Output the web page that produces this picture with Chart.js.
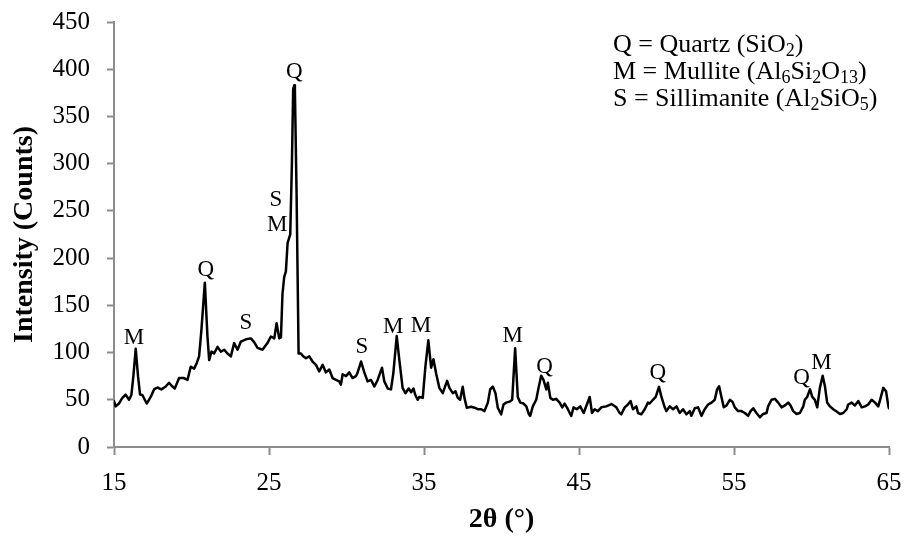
<!DOCTYPE html>
<html>
<head>
<meta charset="utf-8">
<script src="https://cdn.jsdelivr.net/npm/chart.js@4/dist/chart.umd.min.js"></script>
<style>
  html, body { margin: 0; padding: 0; background: #ffffff; }
  #wrap { width: 910px; height: 541px; }
</style>
</head>
<body>
<div id="wrap"><canvas id="xrd" width="910" height="541"></canvas></div>
<script>
// Diffraction angle (2θ, degrees)
const twoTheta = [
  15.00, 15.11, 15.32, 15.54, 15.75, 15.97, 16.12, 16.25, 16.40, 16.55, 16.68, 16.83,
  17.11, 17.37, 17.58, 17.80, 18.06, 18.34, 18.55, 18.77, 18.92, 19.20, 19.52, 19.74,
  19.95, 20.17, 20.34, 20.49, 20.64, 20.86, 21.03, 21.14, 21.29, 21.46, 21.68, 21.89,
  22.11, 22.32, 22.54, 22.75, 22.97, 23.18, 23.51, 23.83, 24.04, 24.26, 24.58, 24.90,
  25.12, 25.34, 25.49, 25.66, 25.77, 25.87, 25.98, 26.09, 26.20, 26.31, 26.37, 26.48,
  26.56, 26.63, 26.67, 26.78, 26.91, 27.06, 27.21, 27.38, 27.60, 27.81, 28.03, 28.24,
  28.46, 28.67, 28.89, 29.10, 29.32, 29.53, 29.64, 29.75, 29.97, 30.18, 30.39, 30.61,
  30.72, 30.94, 31.15, 31.36, 31.58, 31.80, 32.01, 32.29, 32.44, 32.66, 32.87, 33.02,
  33.24, 33.41, 33.62, 33.80, 34.01, 34.17, 34.32, 34.44, 34.59, 34.70, 34.92, 35.09,
  35.28, 35.46, 35.61, 35.78, 35.99, 36.21, 36.49, 36.64, 36.86, 37.03, 37.18, 37.33,
  37.50, 37.61, 37.76, 38.04, 38.26, 38.47, 38.69, 38.90, 39.12, 39.27, 39.44, 39.61,
  39.76, 39.98, 40.13, 40.30, 40.52, 40.69, 40.88, 41.05, 41.21, 41.42, 41.60, 41.77,
  41.85, 42.02, 42.24, 42.39, 42.56, 42.71, 42.89, 42.99, 43.15, 43.32, 43.53, 43.75,
  43.92, 44.07, 44.28, 44.50, 44.65, 44.86, 45.08, 45.30, 45.51, 45.69, 45.84, 46.01,
  46.22, 46.44, 46.76, 47.09, 47.41, 47.62, 47.73, 47.95, 48.16, 48.33, 48.48, 48.70,
  48.81, 49.02, 49.24, 49.45, 49.56, 49.77, 49.95, 50.16, 50.32, 50.53, 50.64, 50.85,
  51.07, 51.29, 51.50, 51.71, 51.93, 52.15, 52.25, 52.47, 52.68, 52.90, 53.11, 53.33,
  53.55, 53.76, 53.91, 54.04, 54.19, 54.34, 54.52, 54.73, 54.90, 55.05, 55.27, 55.48,
  55.70, 55.91, 56.07, 56.24, 56.45, 56.67, 56.88, 57.10, 57.20, 57.42, 57.64, 57.85,
  58.07, 58.28, 58.50, 58.65, 58.82, 59.04, 59.25, 59.47, 59.57, 59.72, 59.90, 60.05,
  60.22, 60.37, 60.54, 60.72, 60.87, 61.01, 61.19, 61.40, 61.62, 61.84, 62.05, 62.27,
  62.37, 62.59, 62.80, 63.02, 63.24, 63.45, 63.66, 63.88, 64.10, 64.31, 64.46, 64.63,
  64.81, 64.96, 65.00
];

// Measured intensity (counts)
const counts = [
  48.6, 43, 46, 52, 55.5, 50, 55, 75, 104, 75, 55.5, 55,
  46, 53, 61, 63, 61, 64, 68, 64, 62, 73, 73, 71,
  85, 83, 89, 96, 124, 174, 117, 92, 101, 99, 106, 101,
  103, 99, 96, 110, 103, 111.5, 114, 115, 111, 105, 103, 110,
  117, 115, 131, 115, 116, 162, 180, 186, 216, 222, 225, 302,
  379, 383, 379, 267, 99, 99, 96, 94, 96, 90.5, 87, 80,
  87, 79, 82, 73, 71, 69.5, 66, 77, 75, 79, 73, 75,
  79, 90.5, 79, 69.5, 71, 64, 71, 84, 69.5, 62, 61, 78,
  117.5, 92, 62.6, 57, 62, 58, 62, 55, 50, 53, 52, 85,
  113, 84, 93, 78, 62.6, 57, 70, 62.6, 57, 59, 52, 50,
  63.7, 52, 41.6, 42.6, 41.6, 40, 40, 38, 47, 61, 64, 57,
  41.6, 34.6, 45, 47, 48, 50, 104.6, 53, 47, 46, 43, 34.6,
  33, 43, 50, 62.6, 75.5, 71, 61, 68, 52, 50, 51, 47,
  42, 46, 40, 33, 42, 40, 43, 36, 45, 53, 36, 40,
  38, 42, 43, 45.5, 42, 36, 34.6, 42, 45, 48.6, 40, 43,
  36, 34.6, 40, 47, 46, 50, 53, 63.7, 53, 42, 38, 43,
  40, 43, 36, 40, 34.6, 38, 33, 41, 42, 33, 40, 45,
  47, 50, 61, 64.3, 53, 42, 44, 50, 48, 42, 38, 38,
  36, 33, 38, 41, 36, 31.5, 35, 36, 43, 50, 51, 47,
  42, 44, 47, 44, 38, 35, 36, 43, 50, 53, 61, 53,
  50, 42, 62.6, 75.5, 64, 47, 43, 40, 37.5, 35, 36, 40,
  45, 47, 44, 48.6, 42, 43, 45, 50, 47, 43, 52, 62.6,
  59, 43, 41
];

// Axis ticks
const xTicks = [15, 25, 35, 45, 55, 65];
const yTicks = [0, 50, 100, 150, 200, 250, 300, 350, 400, 450];

// Phase labels placed over the reflections (2θ, counts)
const peakText = ['M', 'Q', 'S', 'S', 'M', 'Q', 'S', 'M', 'M', 'M', 'Q', 'Q', 'Q', 'M'];
const peakX    = [16.29, 20.92, 23.51, 25.45, 25.53, 26.63, 31.0, 33.02, 34.81, 40.73, 42.78, 50.08, 59.36, 60.65];
const peakY    = [115.6, 187.5, 131.4, 261.5, 235, 397, 106, 127.5, 128, 117.7, 85.2, 78.6, 73.3, 89];

// Phase key: each entry is a run of text; sub marks a subscript
const keyLines = [
  [{ t: 'Q = Quartz (SiO' }, { t: '2', sub: true }, { t: ')' }],
  [{ t: 'M = Mullite (Al' }, { t: '6', sub: true }, { t: 'Si' }, { t: '2', sub: true }, { t: 'O' }, { t: '13', sub: true }, { t: ')' }],
  [{ t: 'S = Sillimanite (Al' }, { t: '2', sub: true }, { t: 'SiO' }, { t: '5', sub: true }, { t: ')' }]
];

const SERIF = '"Liberation Serif", "Times New Roman", serif';
const AXIS_GREY = '#8c8c8c';

const points = twoTheta.map((x, i) => ({ x: x, y: counts[i] }));

const phaseLabels = {
  id: 'phaseLabels',
  afterDatasetsDraw(chart) {
    const { ctx, scales } = chart;
    ctx.save();
    ctx.fillStyle = '#000';
    ctx.font = '23px ' + SERIF;
    ctx.textAlign = 'center';
    ctx.textBaseline = 'middle';
    peakText.forEach((t, i) => {
      ctx.fillText(t, scales.x.getPixelForValue(peakX[i]), scales.y.getPixelForValue(peakY[i]));
    });
    ctx.restore();
  }
};

const phaseKey = {
  id: 'phaseKey',
  afterDraw(chart) {
    const { ctx, chartArea } = chart;
    const left = chartArea.right - 276;
    const firstBaseline = chartArea.top + 30;
    const lineGap = 27;
    ctx.save();
    ctx.fillStyle = '#000';
    ctx.textAlign = 'left';
    ctx.textBaseline = 'alphabetic';
    keyLines.forEach((runs, li) => {
      let x = left;
      const base = firstBaseline + li * lineGap;
      runs.forEach(r => {
        ctx.font = (r.sub ? '18px ' : '26px ') + SERIF;
        const y = r.sub ? base + 4 : base;
        ctx.fillText(r.t, x, y);
        x += ctx.measureText(r.t).width;
      });
    });
    ctx.restore();
  }
};

new Chart(document.getElementById('xrd'), {
  type: 'line',
  data: {
    datasets: [{
      data: points,
      borderColor: '#000000',
      borderWidth: 2.5,
      borderJoinStyle: 'round',
      borderCapStyle: 'round',
      pointRadius: 0,
      tension: 0,
      fill: false
    }]
  },
  options: {
    responsive: false,
    animation: false,
    layout: { padding: { left: 0, right: 21, top: 22, bottom: 0 } },
    plugins: {
      legend: { display: false },
      tooltip: { enabled: false }
    },
    scales: {
      x: {
        type: 'linear',
        min: 15,
        max: 65,
        afterBuildTicks: (scale) => { scale.ticks = xTicks.map(v => ({ value: v })); },
        afterFit: (scale) => {
          scale.height = 94;
          scale.paddingLeft = 0;
          scale.paddingRight = 0;
        },
        ticks: {
          color: '#000',
          font: { family: SERIF, size: 25 },
          padding: 13,
          maxRotation: 0
        },
        grid: {
          drawOnChartArea: false,
          drawTicks: true,
          tickLength: 8,
          tickColor: AXIS_GREY,
          tickWidth: 2
        },
        border: { display: true, color: AXIS_GREY, width: 2 },
        title: {
          display: true,
          text: '2θ (°)',
          color: '#000',
          font: { family: SERIF, size: 28, weight: 'bold', lineHeight: 1 },
          padding: { top: 0, bottom: 7 }
        }
      },
      y: {
        min: 0,
        max: 450,
        afterBuildTicks: (scale) => { scale.ticks = yTicks.map(v => ({ value: v })); },
        afterFit: (scale) => {
          scale.width = 114;
          scale.paddingTop = 0;
          scale.paddingBottom = 0;
        },
        ticks: {
          color: '#000',
          font: { family: SERIF, size: 25 },
          padding: 17
        },
        grid: {
          drawOnChartArea: false,
          drawTicks: true,
          tickLength: 7,
          tickColor: AXIS_GREY,
          tickWidth: 2
        },
        border: { display: true, color: AXIS_GREY, width: 2 },
        title: {
          display: true,
          text: 'Intensity (Counts)',
          color: '#000',
          font: { family: SERIF, size: 28, weight: 'bold', lineHeight: 1 },
          padding: { top: 11, bottom: 0 }
        }
      }
    }
  },
  plugins: [phaseLabels, phaseKey]
});
</script>
</body>
</html>
